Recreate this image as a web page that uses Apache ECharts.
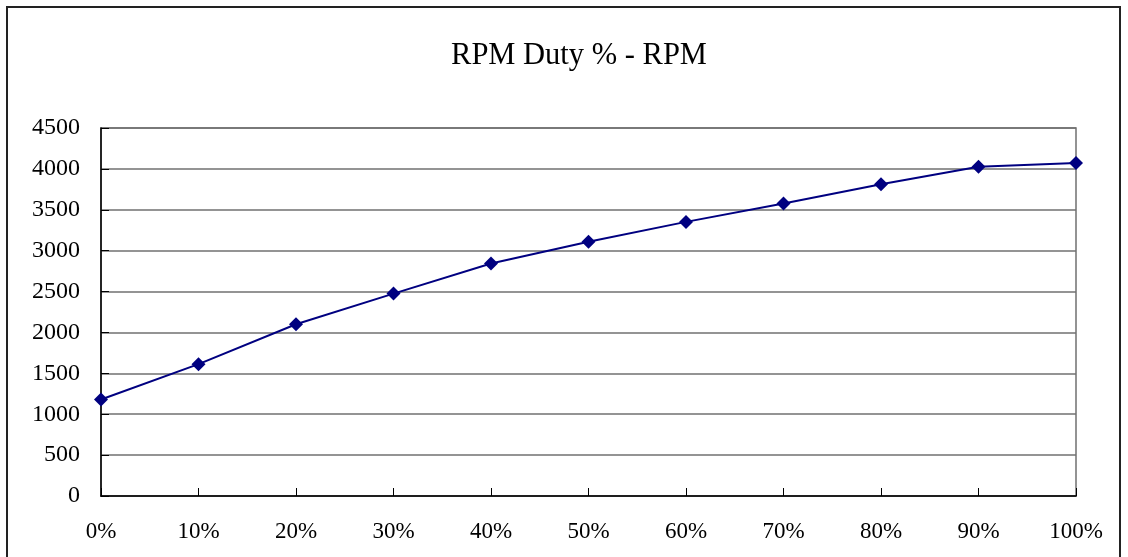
<!DOCTYPE html>
<html>
<head>
<meta charset="utf-8">
<script src="https://cdn.jsdelivr.net/npm/echarts@6/dist/echarts.min.js"></script>
<style>html,body{margin:0;padding:0;background:#fff}#c{width:1128px;height:557px}</style>
</head>
<body>
<div id="c"></div>
<script>
const titleText = 'RPM Duty % - RPM';
const categories = ['0%','10%','20%','30%','40%','50%','60%','70%','80%','90%','100%'];
const rpmValues = [1180, 1612, 2100, 2475, 2843, 3108, 3352, 3576, 3813, 4025, 4072];
const yMin = 0, yMax = 4500, yStep = 500;

const FONT = '"Liberation Serif", "DejaVu Serif", serif';
const chart = echarts.init(document.getElementById('c'), null, {renderer: 'canvas'});
chart.setOption({
  backgroundColor: '#ffffff',
  animation: false,
  title: {
    text: titleText,
    left: 574, top: 35, textAlign: 'center',
    textStyle: {fontFamily: FONT, fontSize: 30.5, fontWeight: 'normal', color: '#000'}
  },
  graphic: [{
    type: 'rect', z: -1, silent: true,
    shape: {x: 7, y: 7, width: 1113, height: 570},
    style: {fill: 'none', stroke: '#222', lineWidth: 2}
  }],
  grid: {left: 101, right: 52, top: 128, bottom: 61, show: true, borderColor: '#707070', borderWidth: 1.5, backgroundColor: 'transparent'},
  xAxis: {
    type: 'category', data: categories, boundaryGap: false,
    axisLine: {lineStyle: {color: '#000', width: 1.5}},
    axisTick: {show: true, inside: true, length: 8, lineStyle: {color: '#000'}},
    axisLabel: {fontFamily: FONT, fontSize: 23, color: '#000', margin: 24},
    splitLine: {show: false}
  },
  yAxis: {
    type: 'value', min: yMin, max: yMax, interval: yStep,
    axisLine: {show: true, lineStyle: {color: '#000', width: 1.5}},
    axisTick: {show: true, inside: true, length: 8, lineStyle: {color: '#000'}},
    axisLabel: {fontFamily: FONT, fontSize: 24, color: '#000', margin: 21, padding: [5, 0, 0, 0], formatter: v => String(v)},
    splitLine: {show: true, lineStyle: {color: '#707070', width: 1.5}}
  },
  series: [{
    type: 'line', data: rpmValues,
    symbol: 'diamond', symbolSize: 14, showAllSymbol: true,
    lineStyle: {color: '#000080', width: 2},
    itemStyle: {color: '#000080'}
  }]
});
</script>
</body>
</html>
